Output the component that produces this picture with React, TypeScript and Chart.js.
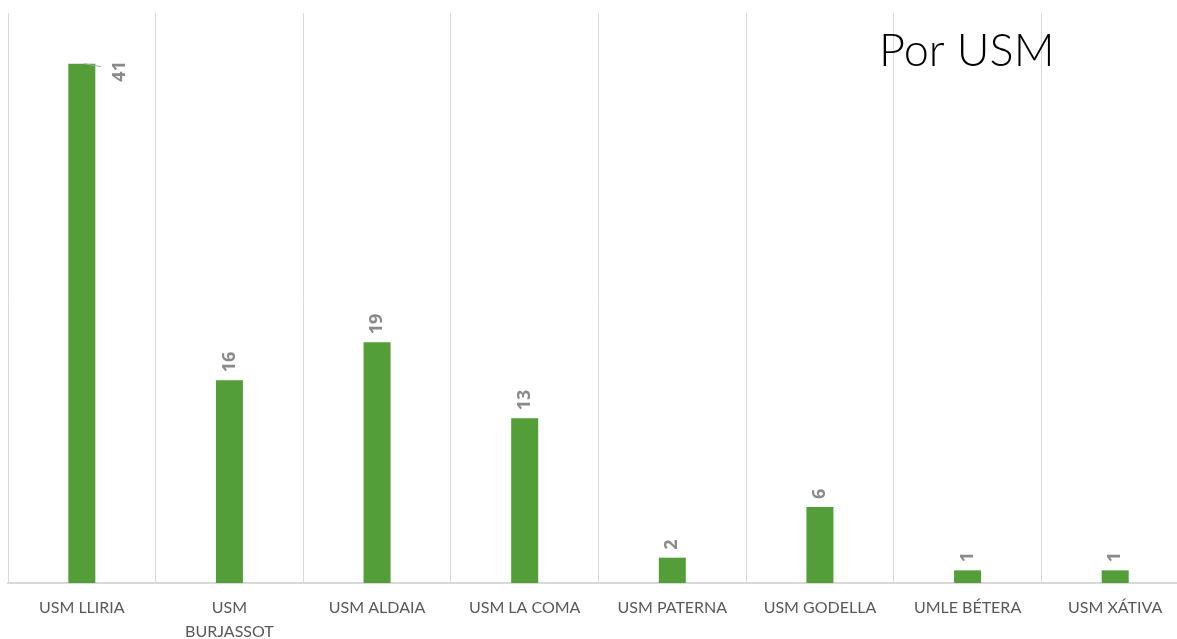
import React, { useEffect, useRef } from "react";
import { Chart, registerables } from "chart.js";

Chart.register(...registerables);

const categories: (string | string[])[] = [
  "USM LLIRIA",
  ["USM", "BURJASSOT"],
  "USM ALDAIA",
  "USM LA COMA",
  "USM PATERNA",
  "USM GODELLA",
  "UMLE BÉTERA",
  "USM XÁTIVA",
];
const values: number[] = [41, 16, 19, 13, 2, 6, 1, 1];
const titleText = "Por USM";

const BAR_COLOR = "#549E39";
const LABEL_COLOR = "#8a8a8a";

const labelPlugin = {
  id: "barLabels",
  afterDatasetsDraw(chart: any) {
    const ctx = chart.ctx;
    const meta = chart.getDatasetMeta(0);
    const area = chart.chartArea;
    ctx.save();
    ctx.font = "bold 18px 'Open Sans'";
    ctx.fillStyle = LABEL_COLOR;
    meta.data.forEach((bar: any, i: number) => {
      const text = String(chart.data.datasets[0].data[i]);
      const w = ctx.measureText(text).width;
      const x = bar.x;
      const y = bar.y;
      const gap = 8;
      if (y - gap - w < area.top + 30) {
        ctx.strokeStyle = "#a6a6a6";
        ctx.lineWidth = 1;
        ctx.beginPath();
        ctx.moveTo(x + 2, y);
        ctx.lineTo(x + 19, y + 3);
        ctx.stroke();
        ctx.save();
        ctx.translate(x + 38, y + 18);
        ctx.rotate(-Math.PI / 2);
        ctx.textAlign = "left";
        ctx.textBaseline = "middle";
        ctx.fillText(text, 0, 0);
        ctx.restore();
      } else {
        ctx.save();
        ctx.translate(x, y - gap);
        ctx.rotate(-Math.PI / 2);
        ctx.textAlign = "left";
        ctx.textBaseline = "middle";
        ctx.fillText(text, 0, 0);
        ctx.restore();
      }
    });
    ctx.restore();
  },
};

const titlePlugin = {
  id: "cornerTitle",
  afterDraw(chart: any) {
    const ctx = chart.ctx;
    ctx.save();
    ctx.font = "300 45px Lato";
    ctx.fillStyle = "#000000";
    ctx.textAlign = "left";
    ctx.textBaseline = "alphabetic";
    ctx.fillText(titleText, 879, 66);
    ctx.restore();
  },
};

export default function App() {
  const ref = useRef<HTMLCanvasElement>(null);
  useEffect(() => {
    if (!ref.current) return;
    const chart = new Chart(ref.current, {
      type: "bar",
      data: {
        labels: categories,
        datasets: [
          {
            data: values,
            backgroundColor: BAR_COLOR,
            borderWidth: 0,
            barPercentage: 0.183,
            categoryPercentage: 1,
          },
        ],
      },
      options: {
        animation: false,
        responsive: false,
        maintainAspectRatio: false,
        layout: { padding: { left: 8, right: 11, top: 13, bottom: 0 } },
        plugins: {
          legend: { display: false },
          tooltip: { enabled: false },
          title: { display: false },
        },
        scales: {
          x: {
            offset: true,
            grid: {
              display: true,
              offset: true,
              color: "#d9d9d9",
              lineWidth: 1,
              drawTicks: false,
            },
            border: { display: true, color: "#d9d9d9", width: 2 },
            ticks: {
              color: "#595959",
              font: { family: "Lato", size: 16, lineHeight: 1.5 },
              padding: 13,
              maxRotation: 0,
              autoSkip: false,
            },
            afterFit(scale: any) {
              scale.height = 56;
            },
          },
          y: {
            display: false,
            min: 0,
            max: 45,
          },
        },
      },
      plugins: [labelPlugin, titlePlugin],
    });
    return () => chart.destroy();
  }, []);
  return (
    <div
      style={{
        position: "fixed",
        left: 0,
        top: 0,
        width: 1177,
        height: 639,
        overflow: "hidden",
        background: "#ffffff",
      }}
    >
      <canvas
        ref={ref}
        width={1200}
        height={639}
        style={{ position: "absolute", left: 0, top: 0, width: 1200, height: 639 }}
      />
    </div>
  );
}
